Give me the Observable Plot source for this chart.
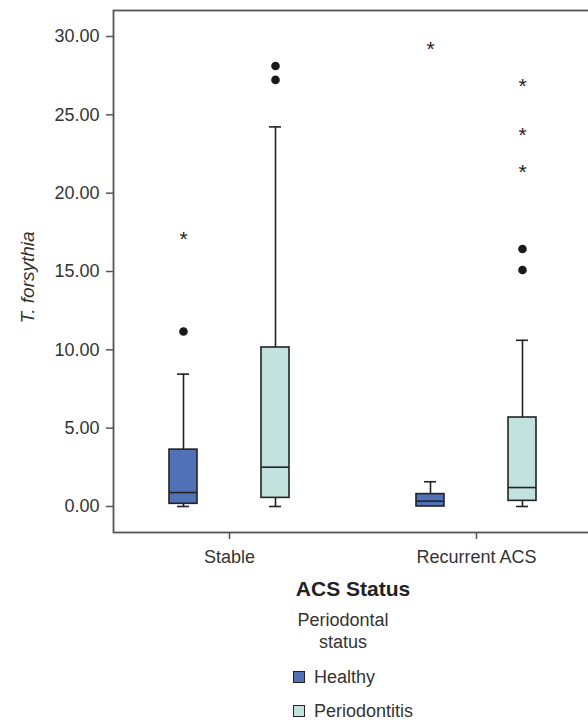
<!DOCTYPE html>
<html><head><meta charset="utf-8">
<script src="https://cdn.jsdelivr.net/npm/d3@7"></script>
<script src="https://cdn.jsdelivr.net/npm/@observablehq/plot@0.6"></script>
<style>
html,body{margin:0;padding:0;background:#fff;overflow:hidden;}
#wrap{position:relative;width:588px;height:722px;overflow:hidden;font-family:"Liberation Sans",Arial,sans-serif;color:#333;}
#ltitle{position:absolute;left:283px;top:609px;width:120px;text-align:center;font-size:18px;line-height:22px;}
.item{position:absolute;left:293px;height:22px;display:flex;align-items:center;font-size:18px;}
.sw{width:10px;height:10px;border:1.5px solid #222;margin-right:9px;}
</style></head><body>
<div id="wrap"><div id="chart"></div><div id="legend"></div></div>
<script>
const acsStatus = ["Stable", "Recurrent ACS"];
const periodontalStatus = ["Healthy", "Periodontitis"];
const colors = ["#5272b8", "#c2e2de"];
const yTicks = [0, 5, 10, 15, 20, 25, 30];

// box summaries: Stable-Healthy, Stable-Periodontitis, Recurrent-Healthy, Recurrent-Periodontitis
const boxAcs = ["Stable", "Stable", "Recurrent ACS", "Recurrent ACS"];
const boxPerio = ["Healthy", "Periodontitis", "Healthy", "Periodontitis"];
const whiskerLow = [0, 0, 0, 0];
const q1 = [0.17, 0.55, 0, 0.36];
const median = [0.89, 2.51, 0.34, 1.21];
const q3 = [3.63, 10.15, 0.79, 5.68];
const whiskerHigh = [8.45, 24.23, 1.58, 10.61];

// outliers (circles)
const outlierAcs = ["Stable", "Stable", "Stable", "Recurrent ACS", "Recurrent ACS"];
const outlierPerio = ["Healthy", "Periodontitis", "Periodontitis", "Periodontitis", "Periodontitis"];
const outlierValue = [11.17, 28.12, 27.23, 16.44, 15.10];

// extreme values (stars)
const extremeAcs = ["Stable", "Recurrent ACS", "Recurrent ACS", "Recurrent ACS", "Recurrent ACS"];
const extremePerio = ["Healthy", "Healthy", "Periodontitis", "Periodontitis", "Periodontitis"];
const extremeValue = [17.36, 29.52, 27.12, 24.00, 21.65];

const boxes = boxAcs.map((a, i) => ({acs: a, perio: boxPerio[i], lo: whiskerLow[i], q1: q1[i], med: median[i], q3: q3[i], hi: whiskerHigh[i]}));
const outliers = outlierAcs.map((a, i) => ({acs: a, perio: outlierPerio[i], v: outlierValue[i]}));
const extremes = extremeAcs.map((a, i) => ({acs: a, perio: extremePerio[i], v: extremeValue[i]}));

const ink = "#222";
const marks = [];
periodontalStatus.forEach((p, k) => {
  const dx = k === 0 ? -46 : 46;
  const b = boxes.filter(d => d.perio === p);
  marks.push(
    Plot.ruleX(b, {x: "acs", y1: "lo", y2: "hi", dx, stroke: ink, strokeWidth: 1.6}),
    Plot.tickY(b.filter(d => d.lo < d.q1), {x: "acs", y: "lo", dx, insetLeft: 8, insetRight: 8, stroke: ink, strokeWidth: 1.6}),
    Plot.tickY(b, {x: "acs", y: "hi", dx, insetLeft: 8, insetRight: 8, stroke: ink, strokeWidth: 1.6}),
    Plot.barY(b, {x: "acs", y1: "q1", y2: "q3", dx, fill: colors[k], stroke: ink, strokeWidth: 1.6}),
    Plot.tickY(b, {x: "acs", y: "med", dx, stroke: ink, strokeWidth: 1.6}),
    Plot.dot(outliers.filter(d => d.perio === p), {x: "acs", y: "v", dx, r: 4.3, fill: "#1a1a1a", stroke: "none"}),
    Plot.text(extremes.filter(d => d.perio === p), {x: "acs", y: "v", dx, dy: 5, text: () => "*", fontSize: 21, fill: ink})
  );
});

const chart = Plot.plot({
  width: 596, height: 600,
  marginLeft: 113, marginRight: 4, marginTop: 10, marginBottom: 68,
  style: {fontFamily: "'Liberation Sans', Arial, sans-serif", fontSize: "18px", color: "#333", maxWidth: "none", background: "#fff"},
  x: {type: "band", domain: acsStatus, paddingInner: 0.887, paddingOuter: 0.413, axis: null},
  y: {domain: [-1.66, 31.66], axis: null},
  marks: [
    Plot.frame({stroke: "#555", strokeWidth: 1.8}),
    Plot.axisY({ticks: yTicks, tickFormat: d => d.toFixed(2), tickSize: 7, tickPadding: 7, label: null, stroke: "#555", strokeWidth: 1.5}),
    Plot.axisX({tickSize: 7, tickPadding: 11, label: null, stroke: "#555", strokeWidth: 1.5}),
    ...marks,
    Plot.text(["ACS Status"], {frameAnchor: "bottom", dy: 63, text: d => d, fontWeight: "bold", fontSize: 21, fill: "#222"}),
    Plot.text(["T. forsythia"], {frameAnchor: "left", textAnchor: "middle", dx: -86, dy: 6, rotate: -90, text: d => d, fontStyle: "italic", fontSize: 19, fill: "#333"})
  ]
});
document.getElementById("chart").appendChild(chart);

const legend = document.getElementById("legend");
const t = document.createElement("div");
t.id = "ltitle";
t.innerHTML = "Periodontal<br>status";
legend.appendChild(t);
periodontalStatus.forEach((p, k) => {
  const it = document.createElement("div");
  it.className = "item";
  it.style.top = (666 + k * 34) + "px";
  const sw = document.createElement("span");
  sw.className = "sw";
  sw.style.background = colors[k];
  it.appendChild(sw);
  it.appendChild(document.createTextNode(p));
  legend.appendChild(it);
});
</script>
</body></html>
